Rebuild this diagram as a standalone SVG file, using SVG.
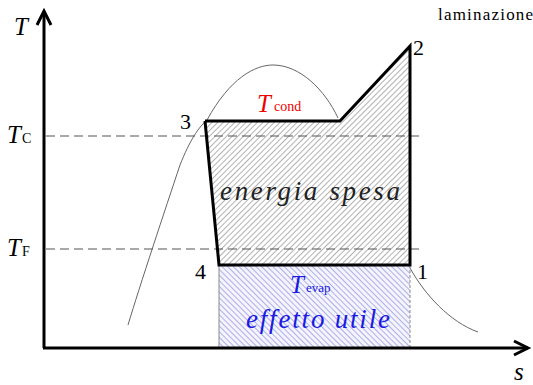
<svg xmlns="http://www.w3.org/2000/svg" width="533" height="385" viewBox="0 0 533 385">
<style>
.ser{font-family:"Liberation Serif","Times New Roman",serif}
.it{font-style:italic}
.dash{stroke:#555;stroke-width:1.2;stroke-dasharray:9 5;fill:none}
.thick{stroke:#000;stroke-width:3;fill:none;stroke-linejoin:miter}
.axis{stroke:#000;stroke-width:3;fill:none}
.dome{stroke:#666;stroke-width:1;fill:none}
</style>
<defs>
<pattern id="hg" width="4" height="4" patternUnits="userSpaceOnUse" patternTransform="rotate(45)">
<rect width="4" height="4" fill="#fff"/>
<line x1="0" y1="0" x2="0" y2="4" stroke="#888" stroke-width="1.3"/>
</pattern>
<pattern id="hb" width="4" height="4" patternUnits="userSpaceOnUse" patternTransform="rotate(-45)">
<rect width="4" height="4" fill="#f4f4ff"/>
<line x1="0" y1="0" x2="0" y2="4" stroke="#8a8ad8" stroke-width="1.3"/>
</pattern>
</defs>
<g id="blue-area">
<rect x="219" y="265" width="191" height="83" fill="url(#hb)"/>
<line x1="219" y1="265" x2="219" y2="348" stroke="#888" stroke-width="1"/>
<line x1="410" y1="265" x2="410" y2="348" stroke="#888" stroke-width="1" stroke-dasharray="3 2"/>
</g>
<g id="dome">
<path class="dome" d="M128,325 C140,285 165,210 180,165 C190,140 198,128 207,120 C230,78 255,65 273,65 C300,65 325,90 338,118"/>
<path class="dome" d="M410,268 C425,295 450,322 478,332"/>
</g>
<g id="energy-area">
<polygon points="205,121 340,121 410,46 410,265 219,265" fill="url(#hg)"/>
</g>
<g id="dashes">
<line class="dash" x1="46" y1="136" x2="423" y2="136"/>
<line class="dash" x1="46" y1="249" x2="423" y2="249"/>
</g>
<g id="cycle">
<polyline class="thick" points="205,121 340,121 410,46 410,265 219,265 205,121"/>
</g>
<g id="axes">
<line class="axis" x1="44" y1="348" x2="44" y2="11"/>
<polyline class="axis" points="37,25 44,11 51,25"/>
<line class="axis" x1="43" y1="348" x2="528" y2="348"/>
<polyline class="axis" points="514,341 528,348 514,355"/>
</g>
<g id="labels" class="ser">
<text x="14" y="35" font-size="25" class="it">T</text>
<text x="7" y="143" font-size="25" class="it">T</text>
<text x="22" y="143" font-size="14">C</text>
<text x="7" y="256" font-size="25" class="it">T</text>
<text x="22" y="256" font-size="14">F</text>
<text x="514" y="380" font-size="25" class="it">s</text>
<text x="438" y="20" font-size="17" letter-spacing="1.2">laminazione</text>
<text x="413" y="55" font-size="22">2</text>
<text x="180" y="129" font-size="22">3</text>
<text x="195" y="279" font-size="22">4</text>
<text x="417" y="279" font-size="22">1</text>
<text x="257" y="112" font-size="25" class="it" fill="#e00">T</text>
<text x="274" y="111" font-size="14" fill="#e00">cond</text>
<text x="220" y="200" font-size="27" class="it" fill="#222" textLength="180" lengthAdjust="spacing">energia spesa</text>
<text x="290" y="293" font-size="25" class="it" fill="#1a1ae0">T</text>
<text x="306" y="292" font-size="13" fill="#1a1ae0">evap</text>
<text x="246" y="328" font-size="27" class="it" fill="#1a1ae0" textLength="144" lengthAdjust="spacing">effetto utile</text>
</g>
</svg>
